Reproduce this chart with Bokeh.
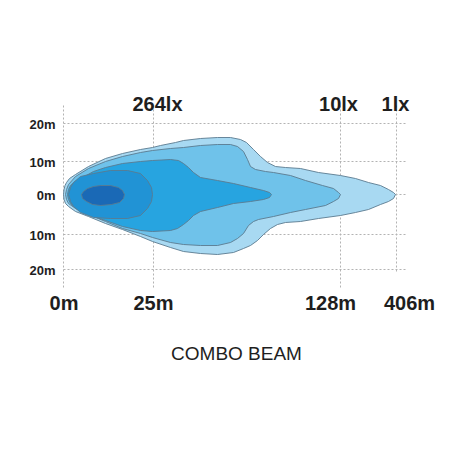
from bokeh.plotting import figure
from bokeh.models import Range1d
from bokeh.core.properties import value
from bokeh.embed import file_html
from bokeh.resources import INLINE

# ---- axis ticks (chart units) and labels ----
dist_ticks = [0, 90, 277, 333]
dist_labels = ["0m", "25m", "128m", "406m"]
dist_label_x = [0.5, 90, 267, 346]
lux_ticks = [90, 277, 333]
lux_labels = ["264lx", "10lx", "1lx"]
lux_label_x = [94, 275, 332]
width_ticks = [71, 33, 0, -40, -75]
width_labels = ["20m", "10m", "0m", "10m", "20m"]

# ---- isolux contours (chart units) ----
l1_x = [0, 0.5, 1.5, 3, 6, 12, 25, 42, 59, 77, 89, 97, 112, 120, 137, 154, 167, 177, 183, 190, 197, 204, 212, 222, 237, 255, 277, 292, 305, 317, 325, 330, 332,
        330, 325, 317, 305, 292, 277, 255, 237, 222, 214, 207, 200, 194, 187, 180, 170, 154, 137, 120, 107, 89, 77, 59, 42, 25, 12, 5, 2, 0.5]
l1_y = [0, 5, 9, 12, 16, 20, 28, 36, 41, 45, 47, 49, 52, 54, 56, 57, 57, 55, 52, 45, 38, 32, 28, 27, 26, 22, 19, 16, 12, 9, 5, 2, 0,
        -4, -7, -10, -15, -18, -21, -24, -27, -28, -30, -34, -40, -46, -51, -54, -58, -60, -59, -57, -53, -47, -42, -35, -29, -22, -17, -12, -9, -5]

l2_x = [2, 3, 5, 12, 25, 42, 59, 77, 89, 107, 120, 137, 154, 167, 174, 180, 184, 187, 192, 202, 210, 227, 242, 259, 270, 275, 277,
        275, 270, 262, 242, 227, 210, 195, 190, 185, 180, 174, 167, 154, 137, 120, 107, 89, 77, 59, 42, 25, 12, 5, 3]
l2_y = [0, 5, 10, 18, 26, 33, 38, 42, 44, 46, 47, 49, 50, 50, 48, 43, 35, 28, 25, 23, 22, 19, 14, 9, 6, 2, 0,
        -4, -7, -11, -15, -18, -22, -25, -27, -31, -39, -44, -48, -51, -51, -50, -48, -43, -39, -34, -27, -20, -14, -9, -5]

l3_x = [4, 5, 7, 13, 19, 30, 42, 59, 77, 89, 107, 115, 120, 125, 130, 137, 154, 170, 187, 200, 206, 208,
        206, 200, 187, 170, 154, 137, 130, 125, 120, 114, 107, 89, 77, 59, 42, 30, 19, 13, 7, 5]
l3_y = [0, 5, 9, 14, 17, 23, 27, 31, 33, 34, 35, 34, 31, 27, 22, 17, 14, 11, 7, 4, 2, 0,
        -3, -5, -7, -9, -13, -17, -21, -26, -30, -34, -36, -37, -36, -32, -26, -22, -18, -14, -9, -5]

l4_x = [5, 7, 10, 17, 30, 47, 64, 77, 84, 88, 89, 88, 84, 77, 64, 47, 30, 17, 10, 7]
l4_y = [0, 7, 12, 18, 21, 24, 24, 21, 14, 7, 0, -7, -14, -21, -24, -24, -23, -18, -12, -7]

l5_x = [18, 20, 24, 30, 37, 47, 55, 59, 61, 60, 56, 48, 37, 29, 23, 19]
l5_y = [0, 3, 6, 8, 9, 9, 7, 4, 0, -4, -8, -10, -11, -10, -7, -4]

layers = [
    (l1_x, l1_y, "#a8d9f2"),
    (l2_x, l2_y, "#6fc2ea"),
    (l3_x, l3_y, "#27a4e0"),
    (l4_x, l4_y, "#2193d5"),
    (l5_x, l5_y, "#1a69b6"),
]

p = figure(width=450, height=450, output_backend="svg", toolbar_location=None,
           x_range=Range1d(-63, 387), y_range=Range1d(-256, 194),
           x_axis_type=None, y_axis_type=None, min_border=0)
p.outline_line_color = None
p.xgrid.visible = False
p.ygrid.visible = False
p.background_fill_color = "white"

# grid lines
grid_col = "#b3b3b3"
p.segment(x0=[0] * len(width_ticks), x1=[344] * len(width_ticks), y0=width_ticks, y1=width_ticks,
          line_color=grid_col, line_width=1, line_dash="2 2")
v_bottom = [-93, -93, -93, -78]
p.segment(x0=dist_ticks, x1=dist_ticks, y0=[89] * len(dist_ticks), y1=v_bottom,
          line_color=grid_col, line_width=1, line_dash="2 2")

# beam contours
for xs, ys, col in layers:
    p.patch(xs, ys, fill_color=col, line_color="#5a7a90", line_width=0.9)

font = value("Liberation Sans")
txt_col = "#1e1e1e"

p.text(x=lux_label_x, y=[91] * len(lux_labels), text=lux_labels, text_font=font,
       text_font_style="bold", text_font_size="20px", text_align="center",
       text_baseline="middle", text_color=txt_col)
p.text(x=dist_label_x, y=[-108] * len(dist_labels), text=dist_labels, text_font=font,
       text_font_style="bold", text_font_size="20px", text_align="center",
       text_baseline="middle", text_color=txt_col)
p.text(x=[-8] * len(width_labels), y=[t - 1 for t in width_ticks], text=width_labels, text_font=font,
       text_font_style="bold", text_font_size="13px", text_align="right",
       text_baseline="middle", text_color=txt_col)
p.text(x=[173], y=[-159], text=["COMBO BEAM"], text_font=font,
       text_font_size="19px", text_align="center", text_baseline="middle", text_color=txt_col)

open("out.html", "w").write(file_html(p, INLINE))
